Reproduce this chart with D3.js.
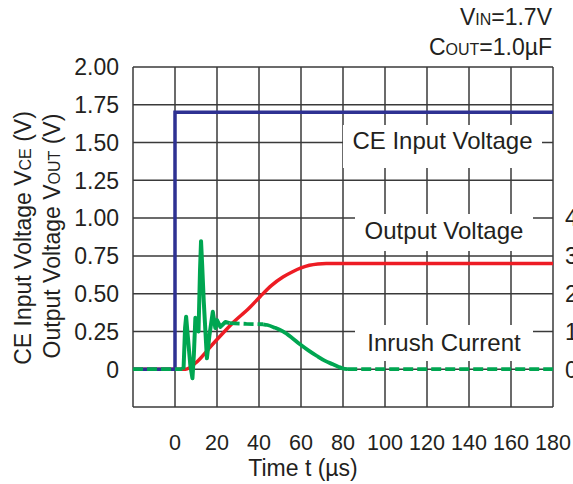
<!DOCTYPE html>
<html>
<head>
<meta charset="utf-8">
<script src="https://cdn.jsdelivr.net/npm/d3@7/dist/d3.min.js"></script>
<style>
  html, body { margin: 0; padding: 0; background: #fff; }
  svg { display: block; font-family: "Liberation Sans", Arial, Helvetica, sans-serif; }
</style>
</head>
<body>
<svg id="chart" width="573" height="484"></svg>
<script>
// Axis ticks
const timeTicks = [0, 20, 40, 60, 80, 100, 120, 140, 160, 180];
const voltTicks = [0, 0.25, 0.5, 0.75, 1.0, 1.25, 1.5, 1.75, 2.0];
const voltTickLabels = ["0", "0.25", "0.50", "0.75", "1.00", "1.25", "1.50", "1.75", "2.00"];
const currentTicks = [0, 1, 2, 3, 4];

// CE input voltage (t in µs, V)
const ceInput = [[-20, 0], [0, 0], [0, 1.7], [180, 1.7]];

// Output voltage (t in µs, V)
const outputVoltage = [
  [-20, 0], [5, 0], [7, 0.01], [10.5, 0.05], [17.6, 0.16], [27, 0.30],
  [35.7, 0.41], [40.5, 0.48], [46, 0.555], [51.4, 0.61], [56, 0.645],
  [60, 0.67], [64, 0.688], [68, 0.697], [72, 0.70], [180, 0.70]
];

// Inrush current (t in µs, right-axis units)
const inrushBefore = [[-20, 0], [3.5, 0]];
const inrushRinging = [
  [3.5, 0], [4.1, 0.05], [4.8, 1.1], [5.3, 1.39], [5.9, 1.0], [7.3, 0.1],
  [8.3, -0.24], [9.0, 0.4], [9.7, 1.36], [10.6, 1.2], [11.2, 1.0],
  [11.9, 2.6], [12.4, 3.39], [12.9, 2.8], [13.7, 1.79], [15.2, 0.29],
  [16.4, 0.9], [18.0, 1.52], [19.2, 1.09], [20.0, 1.3], [21.6, 1.12],
  [24.0, 1.25], [26.0, 1.22]
];
const inrushPlateau = [[26.0, 1.22], [34, 1.2], [42, 1.19]];
const inrushDecay = [
  [42, 1.19], [44, 1.17], [47.5, 1.1], [51.4, 1.0], [55.5, 0.84],
  [59.5, 0.66], [63.5, 0.5], [67.6, 0.35], [71.5, 0.22], [75.2, 0.13],
  [78, 0.06], [80, 0.02], [82, 0]
];
const inrushAfter = [[82, 0], [180, 0]];

const svg = d3.select("#chart");
const x = d3.scaleLinear().domain([-20, 180]).range([133, 553]);
const y = d3.scaleLinear().domain([-0.25, 2.0]).range([407, 67]);
const yCur = d3.scaleLinear().domain([-1, 8]).range([407, 67]);

const fontSize = 23;
const textColor = "#231f20";
const gridColor = "#3a3a3a";

// grid
const grid = svg.append("g");
grid.selectAll("line.v").data(d3.range(-20, 181, 20)).join("line")
  .attr("x1", d => x(d)).attr("x2", d => x(d))
  .attr("y1", y(2.0)).attr("y2", y(-0.25))
  .attr("stroke", gridColor).attr("stroke-width", 1.5);
grid.selectAll("line.h").data(d3.range(-0.25, 2.01, 0.25)).join("line")
  .attr("x1", x(-20)).attr("x2", x(180))
  .attr("y1", d => y(d)).attr("y2", d => y(d))
  .attr("stroke", gridColor).attr("stroke-width", 1.5);

// label boxes hide the grid behind the curve names
const labels = [
  { text: "CE Input Voltage", x0: 343, x1: 542, y0: 125, y1: 168, base: 149 },
  { text: "Output Voltage", x0: 355, x1: 533, y0: 214, y1: 251, base: 239 },
  { text: "Inrush Current", x0: 355, x1: 533, y0: 325, y1: 361, base: 351 }
];
svg.selectAll("rect.box").data(labels).join("rect")
  .attr("x", d => d.x0).attr("y", d => d.y0)
  .attr("width", d => d.x1 - d.x0).attr("height", d => d.y1 - d.y0)
  .attr("fill", "#fff");

// curves
const line = d3.line().x(d => x(d[0])).y(d => y(d[1]));
const lineCur = d3.line().x(d => x(d[0])).y(d => yCur(d[1]));
const lineCurSmooth = d3.line().x(d => x(d[0])).y(d => yCur(d[1])).curve(d3.curveMonotoneX);

svg.append("path").datum(outputVoltage)
  .attr("d", d3.line().x(d => x(d[0])).y(d => y(d[1])).curve(d3.curveMonotoneX))
  .attr("fill", "none").attr("stroke", "#ed1c24").attr("stroke-width", 3.5);

svg.append("path").datum(ceInput).attr("d", line)
  .attr("fill", "none").attr("stroke", "#2e3192").attr("stroke-width", 3.5);

const green = "#00a651";
[inrushBefore, inrushPlateau, inrushAfter].forEach(seg => {
  svg.append("path").datum(seg).attr("d", lineCur)
    .attr("fill", "none").attr("stroke", green).attr("stroke-width", 3.8)
    .attr("stroke-dasharray", "10,4");
});
svg.append("path").datum(inrushRinging).attr("d", lineCur)
  .attr("fill", "none").attr("stroke", green).attr("stroke-width", 4)
  .attr("stroke-linejoin", "round");
svg.append("path").datum(inrushDecay).attr("d", lineCurSmooth)
  .attr("fill", "none").attr("stroke", green).attr("stroke-width", 3.8);

// curve names
svg.selectAll("text.lbl").data(labels).join("text")
  .attr("x", d => (d.x0 + d.x1) / 2).attr("y", d => d.base)
  .attr("text-anchor", "middle").attr("font-size", 24).attr("fill", textColor)
  .text(d => d.text);

// left axis labels
svg.selectAll("text.yl").data(voltTicks).join("text")
  .attr("x", 119).attr("y", d => y(d)).attr("dy", "0.36em")
  .attr("text-anchor", "end").attr("font-size", fontSize).attr("fill", textColor)
  .text((d, i) => voltTickLabels[i]);

// right axis labels
svg.selectAll("text.yr").data(currentTicks).join("text")
  .attr("x", 565).attr("y", d => yCur(d)).attr("dy", "0.36em")
  .attr("text-anchor", "start").attr("font-size", fontSize).attr("fill", textColor)
  .text(d => d);

// bottom axis labels
svg.selectAll("text.xl").data(timeTicks).join("text")
  .attr("x", d => x(d)).attr("y", 450)
  .attr("text-anchor", "middle").attr("font-size", 21.5).attr("fill", textColor)
  .text(d => d);

svg.append("text").attr("x", x(60) + 2).attr("y", 476)
  .attr("text-anchor", "middle").attr("font-size", fontSize).attr("fill", textColor)
  .text("Time t (µs)");

// axis titles with small-cap subscripts
function rich(sel, parts) {
  parts.forEach(p => {
    sel.append("tspan").attr("font-size", p.small ? 16 : fontSize).text(p.t);
  });
}
const t1 = svg.append("text").attr("transform", "translate(31,238) rotate(-90)")
  .attr("text-anchor", "middle").attr("font-size", fontSize).attr("fill", textColor);
rich(t1, [{ t: "CE Input Voltage V" }, { t: "CE", small: true }, { t: " (V)" }]);
const t2 = svg.append("text").attr("transform", "translate(60,236) rotate(-90)")
  .attr("text-anchor", "middle").attr("font-size", fontSize).attr("fill", textColor);
rich(t2, [{ t: "Output Voltage V" }, { t: "OUT", small: true }, { t: " (V)" }]);

const c1 = svg.append("text").attr("x", 552).attr("y", 25)
  .attr("text-anchor", "end").attr("font-size", fontSize).attr("fill", textColor);
rich(c1, [{ t: "V" }, { t: "IN", small: true }, { t: "=1.7V" }]);
const c2 = svg.append("text").attr("x", 552).attr("y", 55)
  .attr("text-anchor", "end").attr("font-size", fontSize).attr("fill", textColor);
rich(c2, [{ t: "C" }, { t: "OUT", small: true }, { t: "=1.0µF" }]);
</script>
</body>
</html>
